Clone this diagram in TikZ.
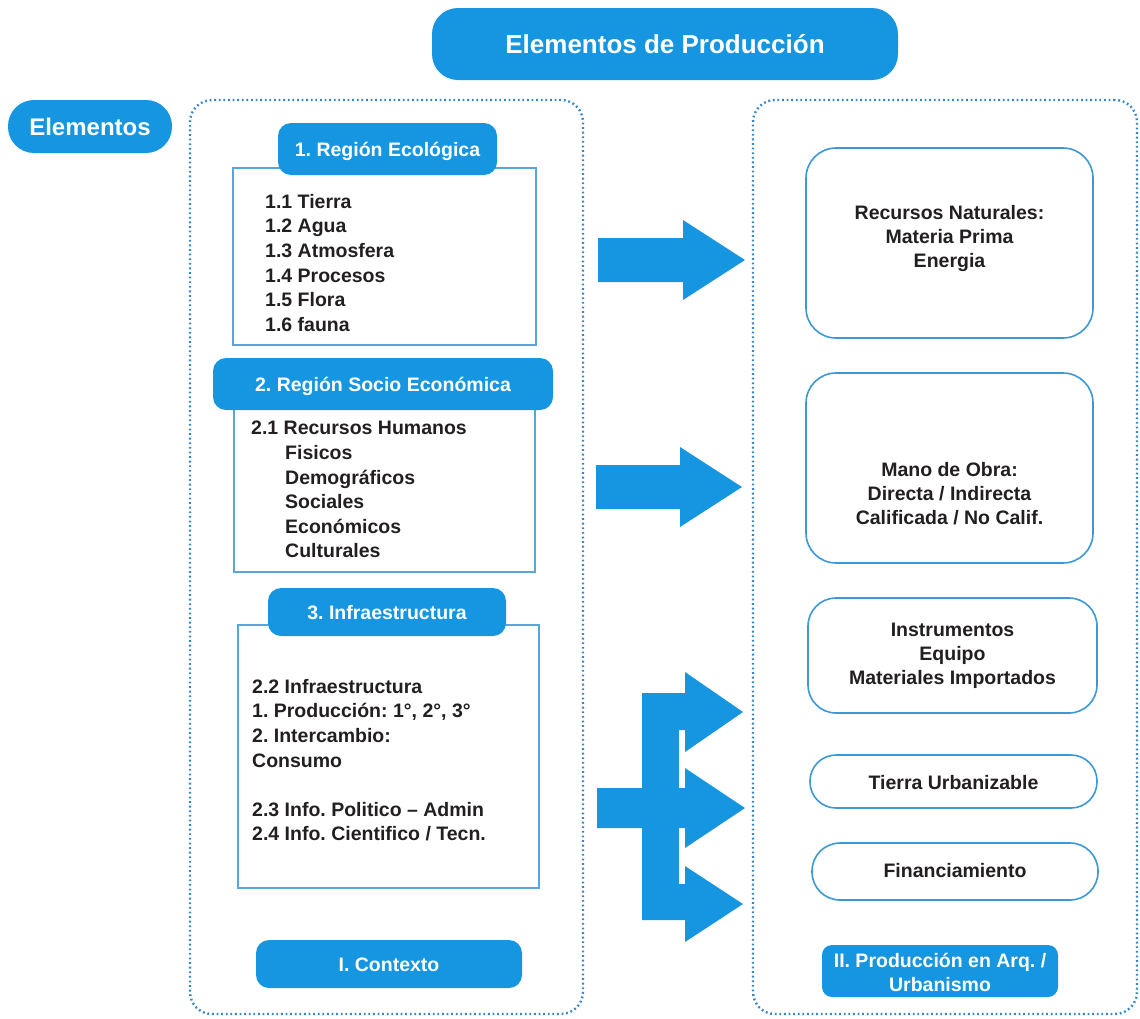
\documentclass[tikz,border=0pt]{standalone}
\usepackage{fontspec}
\setmainfont{Liberation Sans}
\frenchspacing
\definecolor{cblue}{RGB}{22,150,224}
\definecolor{cline}{RGB}{88,167,216}
\definecolor{cbord}{RGB}{61,152,214}
\definecolor{cdots}{RGB}{55,135,200}
\definecolor{ctext}{RGB}{35,31,32}
\tikzset{
  panel/.style={draw=cdots, line width=2.4pt, dash pattern=on 1.8pt off 2.8pt, rounded corners=22pt, inner sep=0pt},
  bluebox/.style={fill=cblue, draw=none, inner sep=0pt},
  listbox/.style={draw=cline, line width=1.3pt, inner sep=0pt},
  resbox/.style={draw=cbord, line width=1.6pt, inner sep=0pt, fill=white},
  wtxt/.style={text=white, font=\bfseries\fontsize{19.5}{24}\selectfont, inner sep=0pt},
  btxt/.style={text=ctext, font=\bfseries\fontsize{19.5}{24.6}\selectfont, inner sep=0pt, align=left},
  ctxt/.style={text=ctext, font=\bfseries\fontsize{19.5}{24}\selectfont, inner sep=0pt, align=center},
  barrow/.style={fill=cblue, draw=none}
}
\begin{document}
\begin{tikzpicture}[x=1pt, y=-1pt]
\useasboundingbox (0,0) rectangle (1140,1018);
% containers
\node[panel, minimum width=393pt, minimum height=914pt] (leftpanel) at (386.5,557) {};
\node[panel, minimum width=384pt, minimum height=914pt] (rightpanel) at (945,557) {};
% title and side label
\node[bluebox, rounded corners=26pt, minimum width=466pt, minimum height=72pt] (title) at (665,44) {};
\node[wtxt, font=\bfseries\fontsize{26}{30}\selectfont, anchor=base] (titletxt) at (665,53) {Elementos de Producción};
\node[bluebox, rounded corners=26pt, minimum width=164pt, minimum height=53pt] (elem) at (90,126.5) {};
\node[wtxt, font=\bfseries\fontsize{24}{28}\selectfont, anchor=base] (elemtxt) at (90,135) {Elementos};
% left section 1
\node[listbox, minimum width=303pt, minimum height=177pt] (r1) at (384.5,256.5) {};
\node[bluebox, rounded corners=13pt, minimum width=219pt, minimum height=52pt] (h1) at (387.5,149) {};
\node[wtxt, anchor=base] (h1txt) at (387.5,156) {1. Región Ecológica};
\node[btxt, anchor=north west] (l1) at (265,194) {1.1 Tierra\\1.2 Agua\\1.3 Atmosfera\\1.4 Procesos\\1.5 Flora\\1.6 fauna};
% left section 2
\node[listbox, minimum width=301pt, minimum height=167pt] (r2) at (384.5,488.5) {};
\node[bluebox, rounded corners=13pt, minimum width=340pt, minimum height=52pt] (h2) at (383,384) {};
\node[wtxt, anchor=base] (h2txt) at (383,391) {2. Región Socio Económica};
\node[btxt, anchor=north west] (l2) at (251,421) {2.1 Recursos Humanos\\\hspace*{34pt}Fisicos\\\hspace*{34pt}Demográficos\\\hspace*{34pt}Sociales\\\hspace*{34pt}Económicos\\\hspace*{34pt}Culturales};
% left section 3
\node[listbox, minimum width=301pt, minimum height=263pt] (r3) at (388.5,756.5) {};
\node[bluebox, rounded corners=13pt, minimum width=238pt, minimum height=48pt] (h3) at (387,612) {};
\node[wtxt, anchor=base] (h3txt) at (387,619) {3. Infraestructura};
\node[btxt, anchor=north west] (l3) at (252,679) {2.2 Infraestructura\\1. Producción: 1°, 2°, 3°\\2. Intercambio:\\Consumo\\[24.6pt]2.3 Info. Politico -- Admin\\2.4 Info. Cientifico / Tecn.};
% contexto
\node[bluebox, rounded corners=13pt, minimum width=266pt, minimum height=48pt] (ctx) at (389,964) {};
\node[wtxt, anchor=base] (ctxtxt) at (389,971) {I. Contexto};
% right boxes
\node[resbox, rounded corners=30pt, minimum width=287pt, minimum height=190pt] (b1) at (949.5,243) {};
\node[ctxt, anchor=north] (b1txt) at (949.5,205) {Recursos Naturales:\\Materia Prima\\Energia};
\node[resbox, rounded corners=30pt, minimum width=287pt, minimum height=190pt] (b2) at (949.5,468) {};
\node[ctxt, anchor=north] (b2txt) at (949.5,462) {Mano de Obra:\\Directa / Indirecta\\Calificada / No Calif.};
\node[resbox, rounded corners=28pt, minimum width=289pt, minimum height=115pt] (b3) at (952.5,655.5) {};
\node[ctxt, anchor=north] (b3txt) at (952.5,623) {Instrumentos\\Equipo\\Materiales Importados};
\node[resbox, rounded corners=26pt, minimum width=287pt, minimum height=53pt] (b4) at (953.5,781.5) {};
\node[ctxt, anchor=base] (b4txt) at (953.5,789) {Tierra Urbanizable};
\node[resbox, rounded corners=28pt, minimum width=286pt, minimum height=57pt] (b5) at (955,871.5) {};
\node[ctxt, anchor=base] (b5txt) at (955,877) {Financiamiento};
\node[bluebox, rounded corners=10pt, minimum width=236pt, minimum height=52pt] (prod) at (940,971) {};
\node[wtxt, align=center, anchor=north] (prodtxt) at (940,953) {II. Producción en Arq. /\\Urbanismo};
% block arrows
\fill[barrow] (598,238) -- (683,238) -- (683,220) -- (745,260) -- (683,300) -- (683,282) -- (598,282) -- cycle;
\fill[barrow] (596,465) -- (680,465) -- (680,447) -- (742,487) -- (680,527) -- (680,509) -- (596,509) -- cycle;
\fill[barrow] (642,693) rectangle (679,920);
\fill[barrow] (642,693) -- (685,693) -- (685,672) -- (743,712) -- (685,752) -- (685,730) -- (642,730) -- cycle;
\fill[barrow] (597,788) -- (685,788) -- (685,768) -- (745,808) -- (685,848) -- (685,828) -- (597,828) -- cycle;
\fill[barrow] (642,884) -- (685,884) -- (685,866) -- (743,904) -- (685,942) -- (685,920) -- (642,920) -- cycle;
\end{tikzpicture}
\end{document}
